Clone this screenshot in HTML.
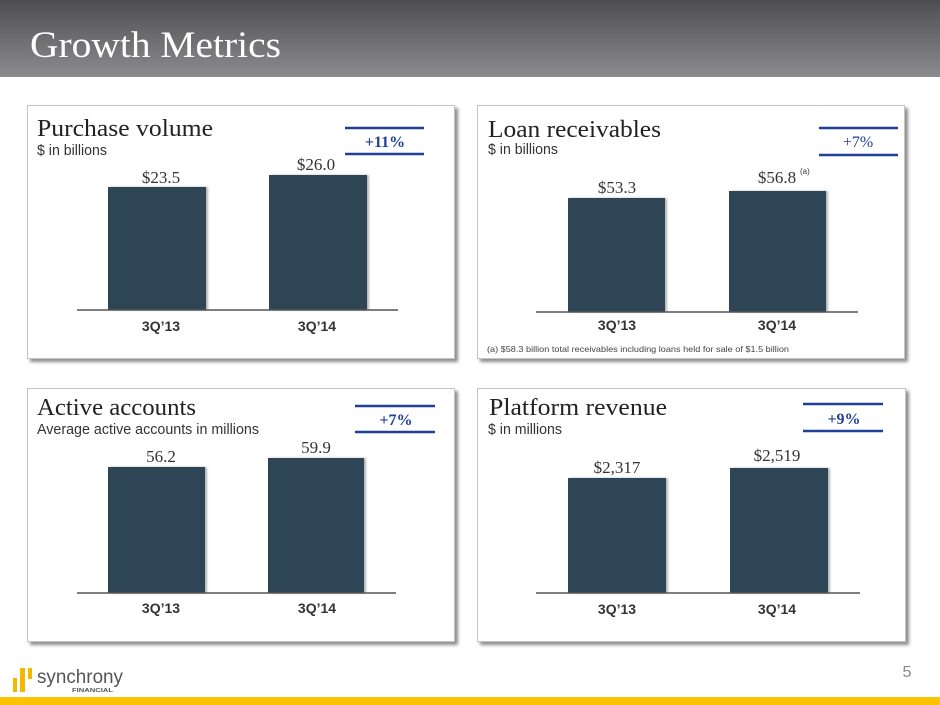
<!DOCTYPE html>
<html><head><meta charset="utf-8"><style>
html,body{margin:0;padding:0;background:#fff;}
svg{display:block;}
</style></head><body>
<svg width="940" height="705" viewBox="0 0 940 705" xmlns="http://www.w3.org/2000/svg">
<defs>
<linearGradient id="hdr" x1="0" y1="0" x2="0" y2="1">
<stop offset="0" stop-color="#4e4e50"/>
<stop offset="1" stop-color="#8c8c8e"/>
</linearGradient>
<filter id="sh" x="-5%" y="-5%" width="115%" height="115%">
<feGaussianBlur in="SourceAlpha" stdDeviation="1.5"/>
<feOffset dx="3" dy="3" result="b"/>
<feComponentTransfer><feFuncA type="linear" slope="0.45"/></feComponentTransfer>
<feMerge><feMergeNode/><feMergeNode in="SourceGraphic"/></feMerge>
</filter>
<filter id="bsh" x="-5%" y="-5%" width="115%" height="110%">
<feGaussianBlur in="SourceAlpha" stdDeviation="1"/>
<feOffset dx="2" dy="0"/>
<feComponentTransfer><feFuncA type="linear" slope="0.3"/></feComponentTransfer>
<feMerge><feMergeNode/><feMergeNode in="SourceGraphic"/></feMerge>
</filter>
</defs>

<rect x="0" y="0" width="940" height="77" fill="url(#hdr)"/>
<text x="30" y="57" font-family="Liberation Serif, serif" font-size="37" fill="#ffffff" textLength="251" lengthAdjust="spacingAndGlyphs">Growth Metrics</text>

<!-- Panels -->
<rect x="27.5" y="105.5" width="427" height="253" fill="#fff" stroke="#c4c4c4" stroke-width="1" filter="url(#sh)"/>
<rect x="477.5" y="105.5" width="427" height="253" fill="#fff" stroke="#c4c4c4" stroke-width="1" filter="url(#sh)"/>
<rect x="27.5" y="388.5" width="427" height="253" fill="#fff" stroke="#c4c4c4" stroke-width="1" filter="url(#sh)"/>
<rect x="477.5" y="388.5" width="428" height="253" fill="#fff" stroke="#c4c4c4" stroke-width="1" filter="url(#sh)"/>

<g font-family="Liberation Serif, serif" fill="#222">
<text x="37" y="136" font-size="24" textLength="176" lengthAdjust="spacingAndGlyphs">Purchase volume</text>
<text x="488" y="137" font-size="24" textLength="173" lengthAdjust="spacingAndGlyphs">Loan receivables</text>
<text x="37" y="415" font-size="24" textLength="159" lengthAdjust="spacingAndGlyphs">Active accounts</text>
<text x="489" y="415" font-size="24" textLength="178" lengthAdjust="spacingAndGlyphs">Platform revenue</text>
</g>

<g font-family="Liberation Sans, sans-serif" fill="#333" font-size="15">
<text x="37" y="155" textLength="70" lengthAdjust="spacingAndGlyphs">$ in billions</text>
<text x="488" y="154" textLength="70" lengthAdjust="spacingAndGlyphs">$ in billions</text>
<text x="37" y="434" textLength="222" lengthAdjust="spacingAndGlyphs">Average active accounts in millions</text>
<text x="488" y="434" textLength="74" lengthAdjust="spacingAndGlyphs">$ in millions</text>
</g>

<!-- Badges -->
<g stroke="#1f3f99" stroke-width="2.5">
<line x1="345" y1="128" x2="424" y2="128"/><line x1="345" y1="154" x2="424" y2="154"/>
<line x1="819" y1="128" x2="898" y2="128"/><line x1="819" y1="155" x2="898" y2="155"/>
<line x1="355" y1="406" x2="435" y2="406"/><line x1="355" y1="432" x2="435" y2="432"/>
<line x1="803" y1="404" x2="883" y2="404"/><line x1="803" y1="431" x2="883" y2="431"/>
</g>
<g font-family="Liberation Serif, serif" fill="#1f3f99" font-size="16" font-weight="bold" text-anchor="middle">
<text x="385" y="147">+11%</text>
<text x="858" y="147" font-weight="normal">+7%</text>
<text x="396" y="425">+7%</text>
<text x="844" y="424">+9%</text>
</g>

<!-- Bars -->
<g fill="#2e4556" filter="url(#bsh)">
<rect x="108" y="187" width="98" height="123"/>
<rect x="269" y="175" width="98" height="135"/>
<rect x="568" y="198" width="97" height="114"/>
<rect x="729" y="191" width="97" height="121"/>
<rect x="108" y="467" width="97" height="126"/>
<rect x="268" y="458" width="96" height="135"/>
<rect x="568" y="478" width="98" height="115"/>
<rect x="730" y="468" width="98" height="125"/>
</g>
<!-- Axes -->
<g stroke="#555" stroke-width="1.5">
<line x1="77" y1="310" x2="398" y2="310"/>
<line x1="536" y1="312" x2="858" y2="312"/>
<line x1="77" y1="593" x2="396" y2="593"/>
<line x1="536" y1="593" x2="860" y2="593"/>
</g>

<!-- Value labels -->
<g font-family="Liberation Serif, serif" fill="#333" font-size="17" text-anchor="middle">
<text x="161" y="183">$23.5</text>
<text x="316" y="170">$26.0</text>
<text x="617" y="193">$53.3</text>
<text x="777" y="183">$56.8</text>
<text x="161" y="462">56.2</text>
<text x="316" y="453">59.9</text>
<text x="617" y="473">$2,317</text>
<text x="777" y="461">$2,519</text>
</g>
<text x="800" y="174" font-family="Liberation Sans, sans-serif" font-size="8" fill="#333">(a)</text>

<!-- Category labels -->
<g font-family="Liberation Sans, sans-serif" fill="#333" font-size="14" font-weight="bold" text-anchor="middle">
<text x="161" y="331">3Q’13</text>
<text x="317" y="331">3Q’14</text>
<text x="617" y="330">3Q’13</text>
<text x="777" y="330">3Q’14</text>
<text x="161" y="613">3Q’13</text>
<text x="317" y="613">3Q’14</text>
<text x="617" y="614">3Q’13</text>
<text x="777" y="614">3Q’14</text>
</g>

<text x="487" y="352" font-family="Liberation Sans, sans-serif" font-size="8.5" fill="#444" textLength="302" lengthAdjust="spacingAndGlyphs">(a) $58.3 billion total receivables including loans held for sale of $1.5 billion</text>

<!-- Page number -->
<text x="907" y="677" font-family="Liberation Sans, sans-serif" font-size="16" fill="#888" text-anchor="middle">5</text>

<!-- Logo -->
<rect x="13" y="678" width="4" height="14" fill="#f5b800"/>
<rect x="20" y="668" width="5" height="24" fill="#f5b800"/>
<rect x="28" y="668" width="4" height="11" fill="#f5b800"/>
<text x="37" y="683" font-family="Liberation Sans, sans-serif" font-size="19" fill="#555" textLength="86" lengthAdjust="spacingAndGlyphs">synchrony</text>
<text x="72" y="692" font-family="Liberation Sans, sans-serif" font-size="5" font-weight="bold" fill="#555" textLength="41" lengthAdjust="spacingAndGlyphs">FINANCIAL</text>

<!-- Yellow bottom bar -->
<rect x="0" y="697" width="940" height="8" fill="#fdc300"/>
</svg>
</body></html>
